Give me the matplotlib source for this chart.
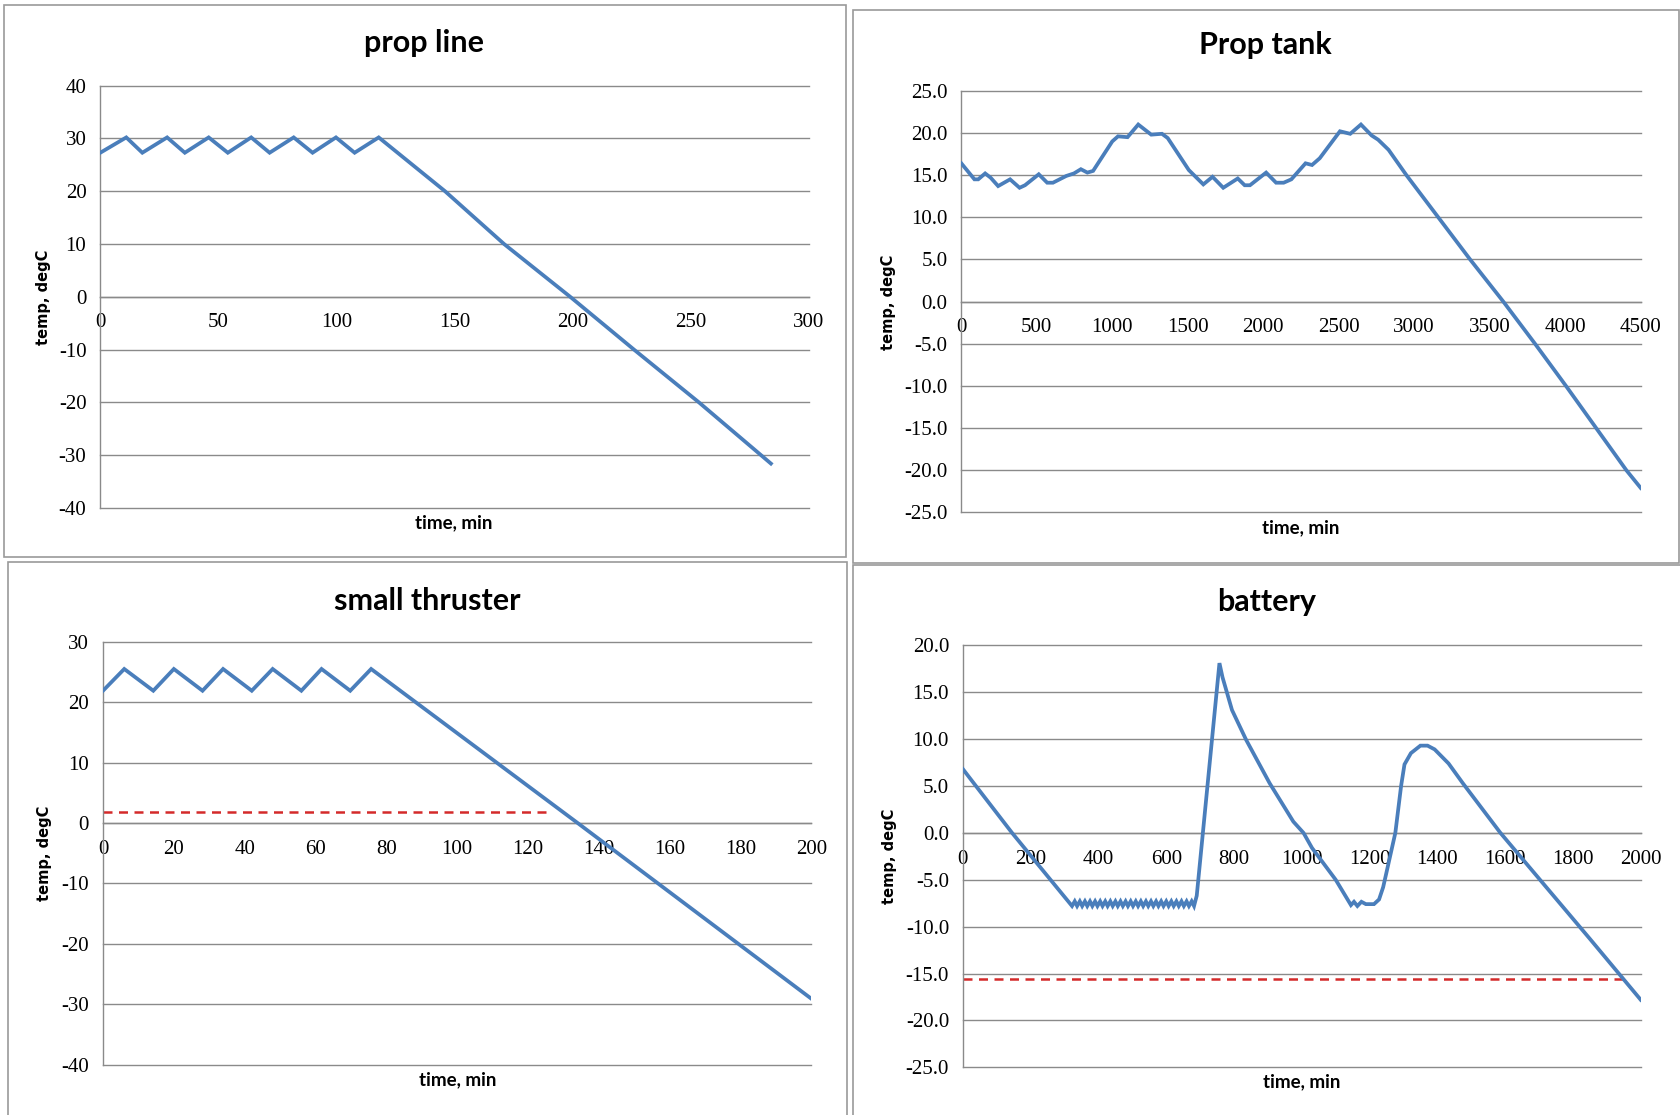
import matplotlib
matplotlib.use("Agg")
import matplotlib.pyplot as plt
from matplotlib.patches import Rectangle
from matplotlib.ticker import MultipleLocator, FormatStrFormatter

W, H = 1681, 1115

# prop line temperature, min / degC
prop_line_t = [0, 11, 17.8, 28.3, 35.8, 45.9, 54, 63.9, 71.7, 81.9, 89.9, 99.8, 107.7, 117.9,
               146, 171, 199, 226, 253.5, 284]
prop_line_temp = [27.3, 30.2, 27.3, 30.2, 27.3, 30.2, 27.3, 30.2, 27.3, 30.2, 27.3, 30.2, 27.3, 30.2,
                  20, 10, 0, -10, -20, -31.6]

# prop tank temperature
prop_tank_t = [0, 87, 112, 158, 194, 244, 323, 386, 422, 513, 569, 607, 695, 746, 792, 835, 873,
               1000, 1038, 1101, 1172, 1258, 1329, 1367, 1507, 1603, 1664, 1735, 1831, 1877, 1912,
               2019, 2085, 2135, 2186, 2280, 2323, 2374, 2508, 2576, 2647, 2718, 2761, 2830,
               2948, 3159, 3370, 3590, 3800, 4005, 4205, 4405, 4500]
prop_tank_temp = [16.4, 14.5, 14.5, 15.2, 14.7, 13.7, 14.5, 13.5, 13.8, 15.1, 14.1, 14.1, 14.9, 15.2,
                  15.7, 15.3, 15.5, 19.0, 19.6, 19.5, 21.0, 19.8, 19.9, 19.4, 15.6, 13.9, 14.8, 13.5,
                  14.6, 13.8, 13.8, 15.3, 14.1, 14.1, 14.5, 16.4, 16.2, 17.0, 20.2, 19.9, 21.0, 19.7,
                  19.2, 18.0, 15, 10, 5, 0, -5, -10, -15, -20, -22.1]

# small thruster temperature and its lower limit
thruster_t = [0, 6, 14.2, 20, 28.1, 33.9, 42, 47.9, 56, 61.7, 69.8, 75.7, 134, 200]
thruster_temp = [21.9, 25.5, 21.9, 25.5, 21.9, 25.5, 21.9, 25.5, 21.9, 25.5, 21.9, 25.5, 0, -29.1]
thruster_limit_t = [0, 126]
thruster_limit = [1.9, 1.9]

# battery temperature and its lower limit
battery_t = [0, 145, 322,
             330, 337, 345, 352, 360, 367, 375, 382, 390, 397, 405, 412, 420, 427, 435, 442,
             450, 457, 465, 472, 480, 487, 495, 502, 510, 517, 525, 532, 540, 547, 555, 562,
             570, 577, 585, 592, 600, 607, 615, 622, 630, 637, 645, 652, 660, 667, 675, 682,
             690, 757, 766, 794, 836, 905, 975, 1005, 1030, 1100, 1145, 1154, 1164, 1176, 1189,
             1213, 1228, 1240, 1250, 1276, 1293, 1303, 1322, 1350, 1371, 1392, 1433, 1475,
             1586, 1850, 2000]
battery_temp = [6.8, 0, -7.8,
                -7.3, -7.8, -7.3, -7.8, -7.3, -7.8, -7.3, -7.8, -7.3, -7.8, -7.3, -7.8, -7.3, -7.8,
                -7.3, -7.8, -7.3, -7.8, -7.3, -7.8, -7.3, -7.8, -7.3, -7.8, -7.3, -7.8, -7.3, -7.8,
                -7.3, -7.8, -7.3, -7.8, -7.3, -7.8, -7.3, -7.8, -7.3, -7.8, -7.3, -7.8, -7.3, -7.8,
                -7.3, -7.8, -7.3, -7.8, -7.3, -7.8,
                -6.7, 18.1, 16.6, 13.1, 9.9, 5.3, 1.2, 0, -1.6, -5.0, -7.7, -7.35, -7.8, -7.35, -7.6,
                -7.6, -7.1, -5.8, -4.2, 0, 5.0, 7.3, 8.5, 9.3, 9.3, 8.9, 7.4, 5.3,
                0, -11.3, -17.8]
battery_limit_t = [0, 1962]
battery_limit = [-15.6, -15.6]

LINE = '#4a7ebb'
LIMIT = '#d42a2a'
GRID = '#8a8a8a'
FRAME = '#9a9a9a'

plt.rcParams['axes.unicode_minus'] = False


def fx(x):
    return x / W


def fy(y):
    return 1 - y / H


def draw_panel(fig, frame, box, t, temp, xmax, xstep, ylim, ystep, yfmt,
               title, title_xy, ylabel_xy, xlabel_xy, limit=None):
    x0, y0, x1, y1 = frame
    fig.add_artist(Rectangle((fx(x0), fy(y1)), fx(x1 - x0), (y1 - y0) / H,
                             transform=fig.transFigure, fill=False,
                             edgecolor=FRAME, linewidth=1.2))

    l, t_, r, b = box
    ax = fig.add_axes([fx(l), fy(b), fx(r - l), (b - t_) / H])
    ax.plot(t, temp, color=LINE, linewidth=2.7, solid_joinstyle='miter', zorder=3)
    if limit is not None:
        ax.plot(limit[0], limit[1], color=LIMIT, linewidth=1.8, dashes=(3.6, 2.6), zorder=2)

    ax.set_xlim(0, xmax)
    ax.set_ylim(*ylim)
    ax.xaxis.set_major_locator(MultipleLocator(xstep))
    ax.yaxis.set_major_locator(MultipleLocator(ystep))
    ax.yaxis.set_major_formatter(FormatStrFormatter(yfmt))
    ax.grid(axis='y', color=GRID, linewidth=1.0, clip_on=False)
    ax.set_axisbelow(True)

    for side in ['top', 'right']:
        ax.spines[side].set_visible(False)
    ax.spines['bottom'].set_position(('data', 0))
    ax.spines['bottom'].set_color(GRID)
    ax.spines['left'].set_color(GRID)
    ax.spines['bottom'].set_linewidth(1.0)
    ax.spines['left'].set_linewidth(1.0)
    ax.tick_params(axis='both', length=0, labelsize=15)
    ax.tick_params(axis='x', pad=12)
    ax.tick_params(axis='y', pad=10)
    for lab in ax.get_xticklabels() + ax.get_yticklabels():
        lab.set_family('Liberation Serif')

    fig.text(fx(title_xy[0]), fy(title_xy[1]), title, ha='center', va='baseline',
             fontsize=22, fontweight='bold', family='Lato')
    fig.text(fx(ylabel_xy[0]), fy(ylabel_xy[1]), 'temp, degC', ha='center', va='center',
             rotation=90, fontsize=10.5, fontweight='bold', family='DejaVu Sans')
    fig.text(fx(xlabel_xy[0]), fy(xlabel_xy[1]), 'time, min', ha='center', va='baseline',
             fontsize=13.5, fontweight='bold', family='Lato')
    return ax


fig = plt.figure(figsize=(W / 100, H / 100), dpi=100)
fig.patch.set_facecolor('white')

draw_panel(fig, (4.3, 5.4, 845.7, 557), (100.3, 85.7, 808.7, 507.9),
           prop_line_t, prop_line_temp, 300, 50, (-40, 40), 10, '%d',
           'prop line', (424.2, 52.3), (43.3, 297.4), (453.9, 528))

draw_panel(fig, (852.6, 10.1, 1679, 562.9), (961.3, 90.8, 1640.7, 512.4),
           prop_tank_t, prop_tank_temp, 4500, 500, (-25, 25), 5, '%.1f',
           'Prop tank', (1265.2, 53.8), (888.4, 301.9), (1301, 533))

draw_panel(fig, (8.1, 562.1, 846.8, 1125), (103, 641.8, 811.4, 1064.6),
           thruster_t, thruster_temp, 200, 20, (-40, 30), 10, '%d',
           'small thruster', (426.9, 610.4), (44.7, 853.2), (457.2, 1085),
           limit=(thruster_limit_t, thruster_limit))

draw_panel(fig, (852.7, 565, 1690, 1125), (962.9, 645.3, 1640.7, 1067.3),
           battery_t, battery_temp, 2000, 200, (-25, 20), 5, '%.1f',
           'battery', (1266.8, 611), (889.8, 856.8), (1301.8, 1087),
           limit=(battery_limit_t, battery_limit))

fig.savefig('out.png', dpi=100)
